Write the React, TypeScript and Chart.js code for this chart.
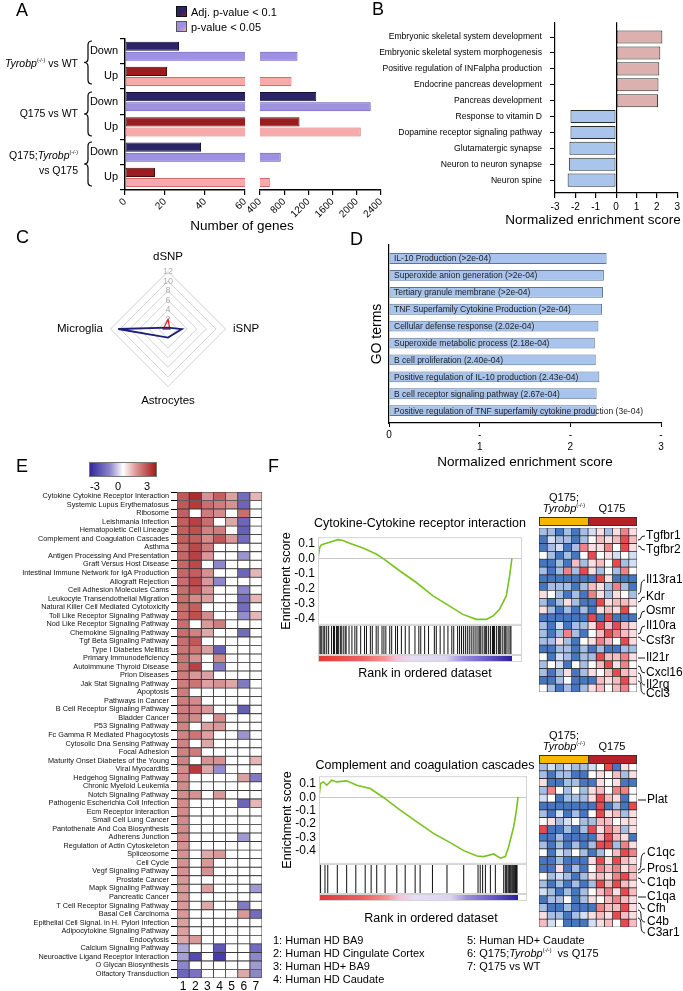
import React, { useEffect, useRef } from 'react';
import { Chart, registerables } from 'chart.js';

Chart.register(...registerables);

const FONT = '"Liberation Sans", Arial, Helvetica, sans-serif';
Chart.defaults.font.family = FONT;
Chart.defaults.color = '#000';

// ---------------- Panel A data ----------------
const aCategories = ['Down', 'Up', 'Down', 'Up', 'Down', 'Up'];
const aAdjP = [27, 21, 1330, 1053, 38, 15];
const aPval = [1020, 922, 2230, 2065, 743, 563];
const aLegend = ['Adj. p-value < 0.1', 'p-value < 0.05'];

// ---------------- Panel B data ----------------
const bTerms = [
  'Embryonic skeletal system development',
  'Embryonic skeletal system morphogenesis',
  'Positive regulation of INFalpha production',
  'Endocrine pancreas development',
  'Pancreas development',
  'Response to vitamin D',
  'Dopamine receptor signaling pathway',
  'Glutamatergic synapse',
  'Neuron to neuron synapse',
  'Neuron spine',
];
const bNES = [2.27, 2.17, 2.12, 2.08, 2.06, -2.24, -2.24, -2.29, -2.32, -2.38];

// ---------------- Panel C data ----------------
const cAxes = ['dSNP', 'iSNP', 'Astrocytes', 'Microglia'];
const cBlue = [0.3, 2.9, 1.8, 10.4];
const cRed = [2.0, 0.4, 0.0, 1.0];

// ---------------- Panel D data ----------------
const dTerms = [
  'IL-10 Production (>2e-04)',
  'Superoxide anion generation (>2e-04)',
  'Tertiary granule membrane (>2e-04)',
  'TNF Superfamily Cytokine Production (>2e-04)',
  'Cellular defense response (2.02e-04)',
  'Superoxide metabolic process (2.18e-04)',
  'B cell proliferation (2.40e-04)',
  'Positive regulation of IL-10 production (2.43e-04)',
  'B cell receptor signaling pathway (2.67e-04)',
  'Positive regulation of TNF superfamily cytokine production (3e-04)',
];
const dNES = [2.4, 2.37, 2.36, 2.35, 2.31, 2.27, 2.28, 2.32, 2.29, 2.29];

// ---------------- Panel E data ----------------
const ePathways = [
  'Cytokine Cytokine Receptor Interaction', 'Systemic Lupus Erythematosus', 'Ribosome', 'Leishmania Infection',
  'Hematopoietic Cell Lineage', 'Complement and Coagulation Cascades', 'Asthma', 'Antigen Processing And Presentation',
  'Graft Versus Host Disease', 'Intestinal Immune Network for IgA Production', 'Allograft Rejection', 'Cell Adhesion Molecules Cams',
  'Leukocyte Transendothelial Migration', 'Natural Killer Cell Mediated Cytotoxicity', 'Toll Like Receptor Signaling Pathway',
  'Nod Like Receptor Signaling Pathway', 'Chemokine Signaling Pathway', 'Tgf Beta Signaling Pathway', 'Type I Diabetes Mellitus',
  'Primary Immunodeficiency', 'Autoimmune Thyroid Disease', 'Prion Diseases', 'Jak Stat Signaling Pathway', 'Apoptosis',
  'Pathways in Cancer', 'B Cell Receptor Signaling Pathway', 'Bladder Cancer', 'P53 Signaling Pathway',
  'Fc Gamma R Mediated Phagocytosis', 'Cytosolic Dna Sensing Pathway', 'Focal Adhesion', 'Maturity Onset Diabetes of the Young',
  'Viral Myocarditis', 'Hedgehog Signaling Pathway', 'Chronic Myeloid Leukemia', 'Notch Signaling Pathway',
  'Pathogenic Escherichia Coli Infection', 'Ecm Receptor Interaction', 'Small Cell Lung Cancer', 'Pantothenate And Coa Biosynthesis',
  'Adherens Junction', 'Regulation of Actin Cytoskeleton', 'Spliceosome', 'Cell Cycle', 'Vegf Signaling Pathway', 'Prostate Cancer',
  'Mapk Signaling Pathway', 'Pancreatic Cancer', 'T Cell Receptor Signaling Pathway', 'Basal Cell Carcinoma',
  'Epithelial Cell Signal. in H. Pylori Infection', 'Adipocytokine Signaling Pathway', 'Endocytosis', 'Calcium Signaling Pathway',
  'Neuroactive Ligand Receptor Interaction', 'O Glycan Biosynthesis', 'Olfactory Transduction',
];
const eColNames = ['1', '2', '3', '4', '5', '6', '7'];
const eCol1 = [2.3, 2.3, 2.2, 2.2, 2.2, 2.2, 2.0, 2.1, 2.1, 2.1, 2.0, 2.0, 2.0, 2.0, 2.0, 2.0, 2.0, 2.0, 1.9, 1.9, 1.9, 1.8, 1.8, 1.8, 1.8, 1.8, 1.8, 1.7, 1.7, 1.7, 1.7, 1.7, 1.6, 1.6, 1.6, 1.6, 1.6, 1.6, 1.6, 1.6, 1.6, 1.5, 1.5, 1.5, 1.5, 1.4, 1.4, 1.4, 1.4, 1.4, 1.3, 1.3, 1.2, -1.3, -1.4, -1.8, -2.3];
const eCol2 = [2.9, 2.7, 0, 2.6, 2.4, 2.2, 2.5, 2.6, 2.5, 2.2, 2.5, 2.3, 1.6, 2.2, 2.4, 0, 1.7, 2.3, 1.9, 1.5, 2.6, 1.4, 1.9, 0, 1.6, 1.7, 1.6, 0, 1.9, 0, 1.8, 0, 2.7, 0, 0, 1.5, 0, 0, 0, 0, 0, 0, 0, 0, 0, 0, 0, 0, 0, 0, 0, 0, 1.4, 0, -2.7, 0, -2.1];
const eCol3 = [1.5, 2.0, 1.8, 2.0, 1.7, 1.6, 1.8, 1.4, 0, 1.5, 1.4, 1.4, 1.3, 0, 1.6, 1.4, 1.2, 0, 1.3, 0, 0, 1.3, 1.3, 0, 0, 1.4, 0, 1.3, 1.3, 1.2, 0, 1.5, 1.2, 0, 0, 0, 0, 0, 0, 0, 0, 0, 1.2, 1.4, 1.5, 0, 1.3, 0, 1.2, 0, 0, 0, 0, 0, 0, 0, 0];
const eCol4 = [2.2, 1.8, 1.6, 0, 1.8, 2.3, 0, 0, -1.8, 0, -1.8, 0, 0, 0, 0, 1.8, 0, 0, -2.4, 1.6, -2.0, 0, 1.5, 0, 0, 0, 1.6, 1.4, 0, 0, 0, 1.5, -1.7, 0, 0, 1.4, 0, 0, 0, 0, 0, 0, 1.4, 0, 0, 0, 0, 0, 0, 0, 0, 0, 0, -2.5, -2.9, 0, 0];
const eCol5 = [1.3, 1.5, 0, 1.2, 0, 1.4, 0, 0, 0, 0, 0, 0, 0, 0, 0, 0, 0, 0, 0, 0, 0, 0, 1.2, 0, 0, 0, 0, 0, 0, 0, 0, 0, 0, 0, 0, 0, 0, 0, 0, 0, 0, 0, 0, 0, 0, 0, 0, 0, 0, 0, 0, 0, 0, 0, 0, 0, 0];
const eCol6 = [-2.2, -2.3, 2.0, -2.3, -2.4, -2.2, 0, -1.6, 0, -2.3, 0, -1.8, -2.2, -2.2, -1.7, 0, -2.2, 0, 0, 0, 0, 0, -2.0, 0, 0, -2.4, 0, 0, -1.6, 0, 0, 0, 0, 1.3, 0, 0, -2.3, 0, 0, 0, -1.5, 0, 0, 0, 0, 0, 0, 0, -2.0, 1.4, 0, 0, 0, 0, 0, 0, 1.2];
const eCol7 = [1.0, 0, 0, 0, 0, 0, 0, 0, 0, 1.0, 0, 0, 1.0, 0, 1.0, 0, 0, 0, 0, 0, 0, 0, 0, 0, 0, 0, 0, 0, 0, 0, 0, 1.0, 0, -2.0, 0, 0, 1.0, 0, 0, 0, 0, 0, 0, 0, 0, 0, -1.5, 0, 0, -2.2, 0, 0, 0, -2.2, -1.8, -1.5, -1.8];
const eColumns = [eCol1, eCol2, eCol3, eCol4, eCol5, eCol6, eCol7];

// ---------------- Panel F data ----------------
const esCytoX = [0, 0.009, 0.017, 0.034, 0.06, 0.103, 0.129, 0.163, 0.232, 0.3, 0.335, 0.421, 0.507, 0.593, 0.679, 0.747, 0.816, 0.868, 0.902, 0.936, 0.971, 0.988, 1.0];
const esCytoY = [0.0, 0.073, 0.089, 0.096, 0.107, 0.124, 0.118, 0.1, 0.069, 0.029, 0.0, -0.082, -0.16, -0.249, -0.316, -0.371, -0.404, -0.404, -0.382, -0.338, -0.249, -0.116, 0.0];
const hitsCyto = [0.01, 0.015, 0.02, 0.03, 0.035, 0.045, 0.055, 0.07, 0.08, 0.085, 0.095, 0.1, 0.105, 0.115, 0.12, 0.13, 0.14, 0.145, 0.16, 0.175, 0.19, 0.2, 0.22, 0.24, 0.25, 0.27, 0.28, 0.3, 0.31, 0.33, 0.34, 0.35, 0.37, 0.38, 0.4, 0.41, 0.43, 0.45, 0.47, 0.5, 0.52, 0.53, 0.55, 0.57, 0.6, 0.61, 0.63, 0.65, 0.67, 0.69, 0.7, 0.72, 0.73, 0.74, 0.75, 0.76, 0.77, 0.78, 0.79, 0.8, 0.81, 0.82, 0.83, 0.835, 0.84, 0.85, 0.86, 0.865, 0.87, 0.88, 0.89, 0.9, 0.905, 0.91, 0.92, 0.93, 0.935, 0.94, 0.95, 0.96, 0.965, 0.97, 0.98, 0.99, 0.995];
const esCompX = [0, 0.008, 0.022, 0.039, 0.064, 0.089, 0.139, 0.19, 0.257, 0.324, 0.408, 0.492, 0.575, 0.659, 0.727, 0.794, 0.827, 0.877, 0.911, 0.936, 0.953, 0.978, 0.992, 1.0];
const esCompY = [0.005, 0.105, 0.117, 0.092, 0.13, 0.117, 0.125, 0.092, 0.067, 0.0, -0.095, -0.183, -0.27, -0.34, -0.4, -0.44, -0.445, -0.425, -0.457, -0.445, -0.37, -0.22, -0.095, 0.005];
const hitsComp = [0.008, 0.03, 0.044, 0.092, 0.139, 0.185, 0.232, 0.262, 0.29, 0.332, 0.391, 0.433, 0.483, 0.508, 0.57, 0.643, 0.727, 0.799, 0.81, 0.822, 0.836, 0.861, 0.886, 0.928, 0.936, 0.941, 0.945, 0.953, 0.958, 0.961, 0.966, 0.973, 0.978, 0.983, 0.987, 0.992, 0.995];

const hmCytokine = [
  [-1, -1, -2, -1, -2, -1, -0.5, 0.5, -1, 0.5, 1.5, 0.5],
  [-2, -0.5, -1, -1, -2, -1, 0, 1, 0.5, 1, 2, 1],
  [-2, -1, -0.5, -2, -1, 1.5, 0.5, 0.5, 1.5, 0, 2, 0.5],
  [0, -1, -2, -1, -2, 0, 2, 0, 0.5, -0.5, 0, -0.5],
  [-2, -2, -1, -2, 1, -1, 0.5, 1, 0, 2, -1, -0.5],
  [-1, -2, -1, 1.5, -1, 2, 0.5, -1, 0, -1, 1.5, 0],
  [-2, -2, -2, -2, -2, -2, -2, 2, 0.5, -2, -2, -2],
  [-2, -1, -1, -1, -2, -1, 1, 0.5, -1, 1.5, -1, -2],
  [0.5, 0, -1, -2, -1, -2, 1.5, 0.5, -1, 0.5, 0, -1],
  [-1, -2, -1, 0.5, -1, -2, -2, 2, 0.5, 1, 1, 0.5],
  [0.5, -1, -2, -1, -2, -1, -2, 0.5, 1, 0.5, 2, 0],
  [-2, -2, -2, -2, -2, -2, 2, -2, 2, -2, -2, -2],
  [-1, -2, -0.5, -2, -1, -1, 0.5, 2, 1, 2, 1, 0.5],
  [-1, -2, -1, 1.5, -1, -2, 0, 1, 2, 1.5, 1, 0.5],
  [-1, -1, 0.5, -1, -2, 0, 0.5, 1.5, 1, 0, 2, 0.5],
  [-2, -2, -1, -1, -2, -1, -2, -1, -2, -2, -1, -1],
  [0, -2, -0.5, -1, -2, -1, -1, 2, 1, 1, 1.5, 0.5],
  [-1, 0, -0.5, -2, 0, -1, 0, 1, 2, 0.5, 1.5, 0],
  [-1, -2, -1, 0.5, -2, -1, 0.5, 0, 1, 2, 1, 0.5],
  [-2, -2, -1, 0, -2, -2, -2, 1, 0.5, 1, 2, 0.5],
  [0, -1, -2, -1, -2, -1, 0.5, 1, 0, 1, 1.5, 0],
];
const hmComplement = [
  [-1, -0.5, -1, -0.5, -1, -1, -0.5, 0, 2, -2, 0.5, 0],
  [-1, -2, -1, -1, -2, -2, 0, 0.5, 0, 1, -1, 0.5],
  [0.5, -2, -2, -1, -1, -2, -2, 0.5, 0, 0.5, -2, -2],
  [-1, 1.5, 0, -1, 0, -1, 0.5, 1, 0, 1.5, 1.5, 0],
  [-0.5, 0, -2, -1, -1, -1, 0.5, 2, 1, 0.5, -2, 0],
  [-2, -2, -2, -2, -2, -2, -2, 2, -2, -1, -2, 2],
  [-1, -2, -0.5, -2, -1, -2, 0, 2, 0.5, 1, -1, 0.5],
  [0, 0.5, -1, -0.5, 0, -1, -1, 1, 1, 0, 0.5, 0.5],
  [2, -2, -2, -1, -2, -1, 2, 0.5, 1.5, 1, -1, 0.5],
  [-2, -2, -1, -2, -2, -2, -2, 1, 2, 1, 0.5, -2],
  [-1, -2, -1, -2, -1, -2, -1, 2, 2, -1, 1.5, 0.5],
  [0, -2, -0.5, -1, 0, -1, -2, -1, 0, 1, 2, 1.5],
  [-2, -2, -1, -2, -2, -2, 0.5, 2, 0.5, 2, 1, 0.5],
  [-2, -2, 0.5, -2, -1, -2, 0, 1.5, 1, 1.5, 0.5, 1],
  [0, -1, -0.5, -1, -2, -1, 0.5, 1, 0.5, 1.5, 2, 1],
  [-1, -2, -1, -2, -1, -2, -1, 2, 1, 2, 1, 0.5],
  [-0.5, -1, -2, -1, -2, -1, 0, 1, 1.5, 0.5, 2, 1],
  [-2, -1, -1, 0, -2, -1, 0.5, 0, 1, 1.5, 1, 0.5],
  [-1, -2, -2, -1, -2, -2, -2, 1.5, 1, 1, 2, 0.5],
  [0.5, -1, -1, -2, -1, -0.5, 0.5, 1, 0.5, 2, 1, 0.5],
  [1, -0.5, 0, -2, -2, -2, -0.5, 0.5, 1, 0, 2, 1],
];
const fColumnGroups = ['Q175;Tyrobp(-/-)', 'Q175'];
const eLegendLeft = ['1: Human HD BA9', '2: Human HD Cingulate Cortex', '3: Human HD+ BA9', '4: Human HD Caudate'];

// ---------------- colours ----------------
const ADJ_DOWN = '#2B2466';
const ADJ_UP = '#9A1C1F';
const P_DOWN = '#9D91E0';
const P_UP = '#F8A9A9';

function mix(a: number[], b: number[], t: number) {
  return a.map((v, i) => Math.round(v + (b[i] - v) * t));
}
function colorE(v: number) {
  const t = Math.min(Math.abs(v) / 3.2, 1);
  const end = v < 0 ? [52, 40, 160] : [168, 22, 22];
  const c = mix([255, 255, 255], end, t);
  return `rgb(${c.join(',')})`;
}
const fStops: [number, number[]][] = [
  [-2, [70, 118, 192]],
  [-1, [166, 190, 228]],
  [0, [255, 255, 255]],
  [1, [246, 188, 194]],
  [2, [232, 72, 80]],
];
function colorF(v: number) {
  const x = Math.max(-2, Math.min(2, v));
  for (let i = 0; i < fStops.length - 1; i++) {
    const [a, ca] = fStops[i];
    const [b, cb] = fStops[i + 1];
    if (x >= a && x <= b) {
      const c = mix(ca, cb, (x - a) / (b - a));
      return `rgb(${c.join(',')})`;
    }
  }
  return '#fff';
}

// ---------------- helpers ----------------
function ChartBox({ left, top, width, height, make }: { left: number; top: number; width: number; height: number; make: () => any }) {
  const ref = useRef<HTMLCanvasElement | null>(null);
  useEffect(() => {
    if (!ref.current) return;
    const chart = new Chart(ref.current, make());
    return () => chart.destroy();
  }, []);
  return (
    <div style={{ position: 'absolute', left, top, width, height }}>
      <canvas ref={ref} width={width} height={height} style={{ display: 'block', width, height }} />
    </div>
  );
}

function T({ x, y, size = 12, anchor = 'left', children, style }: any) {
  const tx = anchor === 'left' ? '0' : anchor === 'right' ? '-100%' : '-50%';
  return (
    <div
      style={{
        position: 'absolute', left: x, top: y, transform: `translate(${tx}, -50%)`, fontSize: size,
        fontFamily: FONT, whiteSpace: 'nowrap', lineHeight: 1.15, color: '#000', ...style,
      }}
    >
      {children}
    </div>
  );
}

const Tyrobp = () => (
  <>
    <i>Tyrobp</i>
    <sup style={{ fontSize: '0.5em', lineHeight: 0 }}>(-/-)</sup>
  </>
);

const noPlugins = { legend: { display: false }, tooltip: { enabled: false } };

const framePlugin = (id: string, color: string) => ({
  id,
  afterDraw(chart: any) {
    const { ctx, chartArea: a } = chart;
    ctx.save();
    ctx.strokeStyle = color;
    ctx.lineWidth = 1;
    ctx.strokeRect(a.left + 0.5, a.top + 0.5, a.right - a.left - 1, a.bottom - a.top - 1);
    ctx.restore();
  },
});

// ---------------- chart configs ----------------
function aDatasets(adj: (number | null)[], pv: (number | null)[]) {
  return [
    {
      label: aLegend[0], data: adj, clip: 0, borderWidth: 1, borderSkipped: false,
      backgroundColor: aCategories.map((c) => (c === 'Down' ? ADJ_DOWN : ADJ_UP)),
      borderColor: aCategories.map((c) => (c === 'Down' ? '#15123a' : '#4a0c0c')),
      categoryPercentage: 0.8, barPercentage: 0.9,
    },
    {
      label: aLegend[1], data: pv, clip: 0, borderWidth: 1, borderSkipped: false,
      backgroundColor: aCategories.map((c) => (c === 'Down' ? P_DOWN : P_UP)),
      borderColor: aCategories.map((c) => (c === 'Down' ? '#5d4fb5' : '#d56a6a')),
      categoryPercentage: 0.8, barPercentage: 0.9,
    },
  ];
}

const axisX = (min: number, max: number, step: number, h: number) => ({
  type: 'linear', min, max,
  ticks: { stepSize: step, autoSkip: false, minRotation: 45, maxRotation: 45, font: { size: 10 }, color: '#000', padding: 1, callback: (v: number) => String(v) },
  grid: { drawOnChartArea: false, drawTicks: true, tickLength: 5, color: '#000', lineWidth: 1.2 },
  border: { color: '#000', width: 1.5 },
  afterFit: (s: any) => { s.height = h; },
});

const makeALeft = () => ({
  type: 'bar',
  data: { labels: aCategories, datasets: aDatasets(aAdjP, aPval) },
  options: {
    indexAxis: 'y', responsive: false, animation: false, events: [],
    layout: { padding: { top: 8, right: 13, left: 0, bottom: 0 } },
    plugins: noPlugins,
    scales: {
      y: {
        type: 'category',
        ticks: { font: { size: 11 }, color: '#000', padding: 2 },
        grid: { drawOnChartArea: false, drawTicks: true, tickLength: 5, color: '#000', lineWidth: 1.2 },
        border: { color: '#000', width: 1.5 },
        afterFit: (s: any) => { s.width = 125; },
      },
      x: axisX(0, 60, 20, 50),
    },
  },
});

const makeARight = () => ({
  type: 'bar',
  data: {
    labels: aCategories,
    datasets: aDatasets(aAdjP.map((v) => (v > 400 ? v : null)), aPval.map((v) => (v > 400 ? v : null))),
  },
  options: {
    indexAxis: 'y', responsive: false, animation: false, events: [],
    layout: { padding: { top: 8.6, right: 19, left: 20, bottom: 0 } },
    plugins: noPlugins,
    scales: {
      y: { type: 'category', display: false },
      x: axisX(400, 2400, 400, 50),
    },
  },
});

const makeB = () => ({
  type: 'bar',
  data: {
    datasets: [{
      data: bNES.map((v, i) => ({ x: v, y: i })),
      backgroundColor: bNES.map((v) => (v > 0 ? '#DDB0B0' : '#A9C5EC')),
      borderColor: '#2a2a2a', borderWidth: 1, borderSkipped: false,
      categoryPercentage: 0.82, barPercentage: 1,
    }],
  },
  options: {
    indexAxis: 'y', responsive: false, animation: false, events: [],
    layout: { padding: { top: 0, right: 4, left: 0, bottom: 0 } },
    plugins: noPlugins,
    scales: {
      y: {
        type: 'linear', reverse: true, min: -0.94, max: 9.81, offset: false,
        ticks: { stepSize: 1, includeBounds: false, autoSkip: false, font: { size: 8.6 }, color: '#000', padding: 8, callback: (v: number) => bTerms[v] ?? '' },
        grid: { drawOnChartArea: false, offset: false, tickLength: 5, color: '#000', lineWidth: 1 },
        border: { color: '#000', width: 1.2 },
        afterFit: (s: any) => { s.width = 215; },
      },
      x: {
        type: 'linear', min: -3, max: 3,
        ticks: { stepSize: 1, font: { size: 10 }, color: '#000', padding: 3 },
        grid: {
          color: (ctx: any) => (ctx.tick && ctx.tick.value === 0 ? '#000' : 'rgba(0,0,0,0)'),
          tickColor: '#000', tickLength: 5, lineWidth: 1.2,
        },
        border: { color: '#000', width: 1.2 },
        afterFit: (s: any) => { s.height = 37; },
      },
    },
  },
});

const makeC = () => ({
  type: 'radar',
  data: {
    labels: cAxes,
    datasets: [
      { data: cBlue, borderColor: '#1d1f78', borderWidth: 1.8, fill: false, pointRadius: 0 },
      { data: cRed, borderColor: '#e0221e', borderWidth: 1.3, fill: false, pointRadius: 0 },
    ],
  },
  options: {
    responsive: false, animation: false, events: [],
    plugins: noPlugins,
    scales: {
      r: {
        min: 0, max: 12,
        ticks: { stepSize: 2, color: '#b0b0b0', font: { size: 9 }, showLabelBackdrop: false, backdropPadding: 0 },
        grid: { color: '#c4c4c4', lineWidth: 0.8 },
        angleLines: { display: false },
        pointLabels: { font: { size: 11.5 }, color: '#000', padding: 3 },
      },
    },
  },
});

const insideLabels = {
  id: 'insideLabels',
  afterDatasetsDraw(chart: any) {
    const { ctx, chartArea } = chart;
    const meta = chart.getDatasetMeta(0);
    ctx.save();
    ctx.font = `8.5px ${FONT}`;
    ctx.fillStyle = '#222';
    ctx.textBaseline = 'middle';
    meta.data.forEach((el: any, i: number) => ctx.fillText(dTerms[i], chartArea.left + 5, el.y + 0.5));
    ctx.restore();
  },
};

const makeD = () => ({
  type: 'bar',
  data: {
    datasets: [{
      data: dNES.map((v, i) => ({ x: v, y: i })),
      backgroundColor: '#A8C4EC', borderColor: '#5d7396', borderWidth: 1, borderSkipped: false,
      categoryPercentage: 0.8, barPercentage: 1,
    }],
  },
  options: {
    indexAxis: 'y', responsive: false, animation: false, events: [],
    layout: { padding: { top: 7, right: 22, left: 0, bottom: 0 } },
    plugins: noPlugins,
    scales: {
      y: {
        type: 'linear', reverse: true, min: -0.8, max: 9.73, offset: false,
        ticks: { display: false, stepSize: 1 },
        grid: { drawOnChartArea: false, drawTicks: false, offset: false },
        border: { color: '#000', width: 1.2 },
        title: { display: true, text: 'GO terms', font: { size: 14 }, color: '#000', padding: { top: 28.5, bottom: 0 } },
        afterFit: (s: any) => { s.width = 49; },
      },
      x: {
        type: 'linear', min: 0, max: 3,
        ticks: { stepSize: 1, font: { size: 10 }, color: '#000', padding: 2, callback: (v: number) => (v === 0 ? '0' : ['-', String(v)]) },
        grid: { drawOnChartArea: false, tickLength: 4, color: '#000' },
        border: { color: '#000', width: 1.2 },
        title: { display: true, text: 'Normalized enrichment score', font: { size: 13.5 }, color: '#000', padding: { top: 0, bottom: 8 } },
        afterFit: (s: any) => { s.height = 55; },
      },
    },
  },
  plugins: [insideLabels],
});

const makeE = () => ({
  type: 'bar',
  data: {
    labels: ePathways,
    datasets: eColumns.map((col, j) => ({
      label: eColNames[j],
      data: col.map(() => 1),
      backgroundColor: col.map(colorE),
      borderColor: '#3a3a3a', borderWidth: 0.8, borderSkipped: false,
      barPercentage: 1, categoryPercentage: 1, xAxisID: 'x', yAxisID: 'y',
    })),
  },
  options: {
    indexAxis: 'y', responsive: false, animation: false, events: [],
    layout: { padding: { top: 7, right: 8, left: 0, bottom: 0 } },
    plugins: noPlugins,
    scales: {
      x: { type: 'linear', stacked: true, min: 0, max: 7, display: false },
      x2: {
        type: 'category', labels: eColNames, position: 'bottom', offset: true,
        grid: { display: false, drawTicks: false }, border: { display: false },
        ticks: { font: { size: 12 }, color: '#000', padding: 1, autoSkip: false, minRotation: 0, maxRotation: 0 },
        afterFit: (s: any) => { s.height = 13; },
      },
      y: {
        type: 'category', stacked: true,
        ticks: { autoSkip: false, font: { size: 7.3 }, color: '#111', padding: 2 },
        grid: { drawOnChartArea: false, tickLength: 6, color: '#000', lineWidth: 1 },
        border: { color: '#222', width: 1 },
        afterFit: (s: any) => { s.width = 177; },
      },
    },
  },
});

const makeHeat = (rows: number[][]) => () => ({
  type: 'bar',
  data: {
    labels: rows.map((_, i) => String(i + 1)),
    datasets: rows[0].map((_, j) => ({
      label: j < 6 ? fColumnGroups[0] : fColumnGroups[1],
      data: rows.map(() => 1),
      backgroundColor: rows.map((r) => colorF(r[j])),
      borderColor: '#262626', borderWidth: 0.7, borderSkipped: false,
      barPercentage: 1, categoryPercentage: 1,
    })),
  },
  options: {
    indexAxis: 'y', responsive: false, animation: false, events: [],
    layout: { padding: 0, autoPadding: false },
    plugins: noPlugins,
    scales: {
      x: { type: 'linear', stacked: true, min: 0, max: 12, display: false },
      y: { type: 'category', stacked: true, display: false },
    },
  },
});

const makeES = (xs: number[], ys: number[], yMin: number, yMax: number, xMax: number, rightPad: number, id: string) => () => ({
  type: 'scatter',
  data: {
    datasets: [{
      data: xs.map((x, i) => ({ x, y: ys[i] })),
      showLine: true, borderColor: '#78C31E', borderWidth: 1.6, pointRadius: 0, fill: false,
    }],
  },
  options: {
    responsive: false, animation: false, events: [],
    layout: { padding: { top: 0, right: rightPad, left: 0, bottom: 0 }, autoPadding: false },
    plugins: noPlugins,
    scales: {
      x: { type: 'linear', min: 0, max: xMax, display: false },
      y: {
        type: 'linear', min: yMin, max: yMax,
        ticks: { stepSize: 0.1, includeBounds: false, autoSkip: false, font: { size: 12 }, color: '#000', padding: 3, callback: (v: number) => v.toFixed(1) },
        grid: { color: (ctx: any) => (ctx.tick && Math.abs(ctx.tick.value) < 1e-6 ? '#c8c8c8' : 'rgba(0,0,0,0)'), drawTicks: false },
        border: { display: false },
        title: { display: true, text: 'Enrichment score', font: { size: 12.5 }, color: '#000', padding: { top: 11, bottom: 0 } },
        afterFit: (s: any) => { s.width = 50; },
      },
    },
  },
  plugins: [framePlugin(id, '#d4d4d4')],
});

const makeHits = (hits: number[], xMax: number, id: string) => () => ({
  type: 'scatter',
  data: {
    datasets: [{
      data: hits.map((x) => ({ x, y: 0.5 })),
      pointStyle: 'line', rotation: 90, radius: 15, borderColor: '#111', borderWidth: 1, backgroundColor: '#111',
      clip: 0,
    }],
  },
  options: {
    responsive: false, animation: false, events: [],
    layout: { padding: 0, autoPadding: false },
    plugins: noPlugins,
    scales: {
      x: { type: 'linear', min: 0, max: xMax, display: false },
      y: { type: 'linear', min: 0, max: 1, display: false },
    },
  },
  plugins: [framePlugin(id, '#d4d4d4')],
});

// ---------------- decorations ----------------
function bracePath(x: number, y1: number, y2: number, w: number) {
  const ym = (y1 + y2) / 2;
  const q = w / 2;
  return `M ${x + q} ${y1} Q ${x} ${y1} ${x} ${y1 + q} L ${x} ${ym - q} Q ${x} ${ym} ${x - q} ${ym} Q ${x} ${ym} ${x} ${ym + q} L ${x} ${y2 - q} Q ${x} ${y2} ${x + q} ${y2}`;
}
function conn(x1: number, y1: number, x2: number, y2: number) {
  return `M ${x1} ${y1} Q ${x1 + 3} ${y1} ${x1 + 3} ${(y1 + y2) / 2} Q ${x1 + 3} ${y2} ${x2} ${y2}`;
}
const geneLabels1: [string, number, number][] = [
  ['Tgfbr1', 540, 536], ['Tgfbr2', 546, 550], ['Il13ra1', 594, 580], ['Kdr', 602, 597], ['Osmr', 619, 611],
  ['Il10ra', 634, 626], ['Csf3r', 637, 641], ['Il21r', 658, 658], ['Cxcl16', 666, 673], ['Il2rg', 673, 685], ['Ccl3', 681, 694],
];
const geneLabels2: [string, number, number][] = [
  ['Plat', 800, 800], ['C1qc', 870, 853], ['Pros1', 873, 869], ['C1qb', 878, 883], ['C1qa', 897, 897],
  ['Cfh', 903, 909], ['C4b', 910, 922], ['C3ar1', 918, 933],
];

const gseaGradient =
  'linear-gradient(to right, #E23838 0%, #EC6262 22%, #F39494 34%, #F4C2DA 40%, #E6DEF4 48%, #DCD5F1 66%, #9D8FDD 74%, #6E5ECB 86%, #2C1E9C 100%)';

export default function App() {
  return (
    <div style={{ position: 'absolute', left: 0, top: 0, width: 683, height: 991, background: '#fff', overflow: 'hidden', fontFamily: FONT }}>
      {/* Panel A */}
      <ChartBox left={0} top={30} width={258} height={210} make={makeALeft} />
      <ChartBox left={240} top={30} width={160} height={210} make={makeARight} />
      {/* Panel B */}
      <ChartBox left={340} top={9} width={343} height={221} make={makeB} />
      {/* Panel C */}
      <ChartBox left={47} top={218} width={223} height={223} make={makeC} />
      {/* Panel D */}
      <ChartBox left={340} top={238} width={343} height={240} make={makeD} />
      {/* Panel E */}
      <ChartBox left={0} top={485} width={270} height={506} make={makeE} />
      {/* Panel F */}
      <ChartBox left={268} top={527} width={262} height={108} make={makeES(esCytoX, esCytoY, -0.44, 0.14, 1.052, 8, 'frameES1')} />
      <ChartBox left={318} top={625} width={204} height={30} make={makeHits(hitsCyto, 1.052, 'frameH1')} />
      <ChartBox left={269} top={766} width={262} height={108} make={makeES(esCompX, esCompY, -0.499, 0.16, 1.045, 4, 'frameES2')} />
      <ChartBox left={319} top={864} width={208} height={30} make={makeHits(hitsComp, 1.045, 'frameH2')} />
      <ChartBox left={539} top={528} width={98} height={164} make={makeHeat(hmCytokine)} />
      <ChartBox left={539} top={763} width={98} height={164} make={makeHeat(hmComplement)} />

      {/* GSEA colour bars */}
      <div style={{ position: 'absolute', left: 318, top: 655, width: 204, height: 7, boxSizing: 'border-box', border: '1px solid #d4d4d4' }}>
        <div style={{ width: 193, height: '100%', background: gseaGradient }} />
      </div>
      <div style={{ position: 'absolute', left: 319, top: 894, width: 208, height: 7, boxSizing: 'border-box', border: '1px solid #d4d4d4' }}>
        <div style={{ width: 198, height: '100%', background: gseaGradient }} />
      </div>

      {/* heatmap group bars */}
      {[517, 755].map((y) => (
        <React.Fragment key={y}>
          <div style={{ position: 'absolute', left: 539, top: y, width: 49, height: 9, background: '#F5B700', boxSizing: 'border-box', border: '1px solid #333', borderRight: 'none' }} />
          <div style={{ position: 'absolute', left: 588, top: y, width: 49, height: 9, background: '#B52226', boxSizing: 'border-box', border: '1px solid #333' }} />
        </React.Fragment>
      ))}

      {/* E colour bar */}
      <div style={{ position: 'absolute', left: 89, top: 462, width: 68, height: 15, boxSizing: 'border-box', border: '1px solid #777', background: 'linear-gradient(to right, #34289E, #8C84CC 30%, #ffffff 50%, #D88C8C 72%, #A51A1A)' }} />
      <T x={95} y={486} size={11} anchor="center">-3</T>
      <T x={118} y={486} size={11} anchor="center">0</T>
      <T x={147} y={486} size={11} anchor="center">3</T>

      {/* SVG decorations */}
      <svg width={683} height={991} style={{ position: 'absolute', left: 0, top: 0, pointerEvents: 'none' }}>
        <g fill="none" stroke="#000" strokeWidth={1.2}>
          <path d={bracePath(88, 41, 84, 8)} />
          <path d={bracePath(88, 92, 136, 8)} />
          <path d={bracePath(88, 142, 186, 8)} />
        </g>
        <g fill="none" stroke="#000" strokeWidth={0.9}>
          {geneLabels1.map(([g, y1, y2]) => <path key={g} d={g === 'Il21r' ? `M 638 ${y1} L 645 ${y2}` : conn(638, y1, 645, y2)} />)}
          {geneLabels2.map(([g, y1, y2]) => <path key={g} d={g === 'Plat' || g === 'C1qa' ? `M 638 ${y1} L 646 ${y2}` : conn(638, y1, 645, y2)} />)}
        </g>
      </svg>

      {/* panel letters */}
      <T x={16} y={10} size={18}>A</T>
      <T x={372} y={9} size={18}>B</T>
      <T x={16} y={237} size={18}>C</T>
      <T x={350} y={239} size={18}>D</T>
      <T x={16} y={466} size={18}>E</T>
      <T x={268} y={466} size={18}>F</T>

      {/* Panel A legend & labels */}
      <div style={{ position: 'absolute', left: 176, top: 6, width: 11, height: 11, boxSizing: 'border-box', border: '1px solid #111', background: `linear-gradient(135deg, ${ADJ_DOWN} 55%, ${ADJ_UP})` }} />
      <div style={{ position: 'absolute', left: 176, top: 21, width: 11, height: 11, boxSizing: 'border-box', border: '1px solid #555', background: `linear-gradient(135deg, ${P_DOWN} 55%, ${P_UP})` }} />
      <T x={191} y={12} size={11}>{aLegend[0]}</T>
      <T x={191} y={27} size={11}>{aLegend[1]}</T>
      <T x={78} y={63} size={10.5} anchor="right"><Tyrobp /> vs WT</T>
      <T x={78} y={113} size={10.5} anchor="right">Q175 vs WT</T>
      <T x={78} y={155} size={10.5} anchor="right">Q175;<Tyrobp /></T>
      <T x={78} y={170} size={10.5} anchor="right">vs Q175</T>
      <T x={242} y={226} size={13.5} anchor="center">Number of genes</T>

      {/* Panel B axis title */}
      <T x={593} y={220} size={13.5} anchor="center">Normalized enrichment score</T>

      {/* Panel F texts */}
      <T x={420} y={523} size={12.5} anchor="center">Cytokine-Cytokine receptor interaction</T>
      <T x={425} y={673} size={12.5} anchor="center">Rank in ordered dataset</T>
      <T x={425} y={765} size={12.5} anchor="center">Complement and coagulation cascades</T>
      <T x={431} y={918} size={12.5} anchor="center">Rank in ordered dataset</T>
      {[[497, 508], [735, 746]].map(([y1, y2]) => (
        <React.Fragment key={y1}>
          <T x={564} y={y1} size={11} anchor="center">Q175;</T>
          <T x={564} y={y2} size={11} anchor="center"><Tyrobp /></T>
          <T x={612} y={y2} size={11} anchor="center">Q175</T>
        </React.Fragment>
      ))}
      {geneLabels1.map(([g, , y]) => <T key={g} x={646} y={y} size={12}>{g}</T>)}
      {geneLabels2.map(([g, , y]) => <T key={g} x={647} y={y} size={12}>{g}</T>)}

      {/* E column legend */}
      {eLegendLeft.map((s, i) => <T key={s} x={273} y={940 + i * 13} size={11}>{s}</T>)}
      <T x={467} y={940} size={11}>5: Human HD+ Caudate</T>
      <T x={467} y={953} size={11}>6: Q175;<Tyrobp />&nbsp; vs Q175</T>
      <T x={467} y={966} size={11}>7: Q175 vs WT</T>
    </div>
  );
}
